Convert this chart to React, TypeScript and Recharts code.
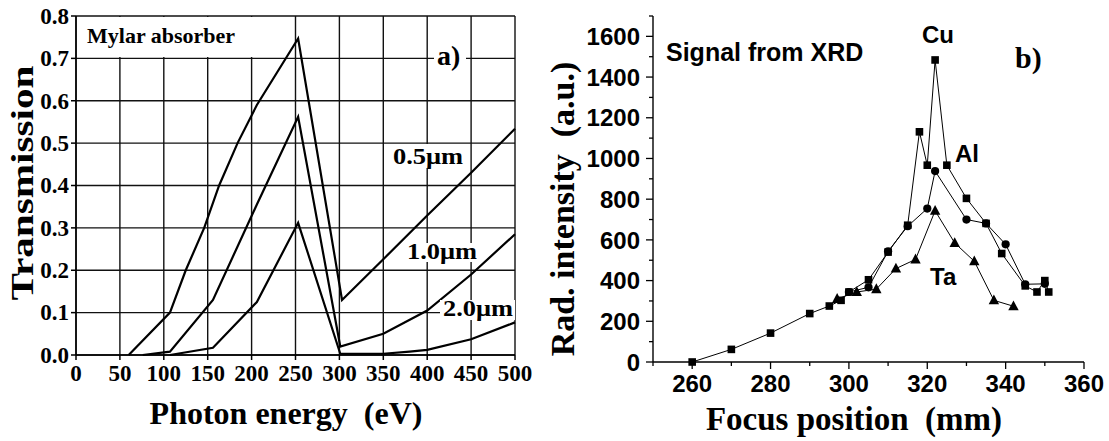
import React from 'react';
import { LineChart, Line, XAxis, YAxis, CartesianGrid } from 'recharts';

const SERIF = '"Liberation Serif", "Times New Roman", Times, serif';
const SANS = '"Liberation Sans", Arial, Helvetica, sans-serif';

// ---------- Panel a) Mylar absorber transmission ----------
const mylar05Energy = [60, 107, 125, 146, 163, 184, 206, 253, 303, 350, 400, 450, 500];
const mylar05Trans = [0, 0.1, 0.2, 0.3, 0.4, 0.5, 0.59, 0.747, 0.13, 0.226, 0.329, 0.43, 0.534];

const mylar10Energy = [76, 107, 156, 206, 253, 301, 350, 400, 450, 500];
const mylar10Trans = [0, 0.008, 0.13, 0.355, 0.562, 0.02, 0.05, 0.105, 0.19, 0.285];

const mylar20Energy = [107, 156, 206, 253, 301, 350, 380, 400, 450, 500];
const mylar20Trans = [0, 0.017, 0.125, 0.312, 0.003, 0.003, 0.008, 0.012, 0.037, 0.077];

const energyTicks = [0, 50, 100, 150, 200, 250, 300, 350, 400, 450, 500];
const transTicks = [0, 0.1, 0.2, 0.3, 0.4, 0.5, 0.6, 0.7, 0.8];

// ---------- Panel b) Signal from XRD ----------
const cuPosition = [260, 270, 280, 290, 295, 298, 300, 305, 310, 315, 318, 320, 322, 325, 330, 335, 339, 345, 348, 350, 351];
const cuSignal = [0, 62, 142, 238, 275, 303, 344, 404, 540, 672, 1131, 967, 1484, 967, 804, 681, 533, 374, 344, 400, 344];

const alPosition = [300, 305, 310, 315, 320, 322, 330, 335, 340, 345, 350];
const alSignal = [344, 367, 544, 667, 754, 938, 700, 681, 578, 382, 384];

const taPosition = [297, 302, 307, 312, 317, 322, 327, 332, 337, 342];
const taSignal = [310, 344, 358, 459, 504, 743, 585, 495, 303, 274];

const focusTicks = [250, 260, 270, 280, 290, 300, 310, 320, 330, 340, 350, 360];
const intensityTicks = [0, 100, 200, 300, 400, 500, 600, 700, 800, 900, 1000, 1100, 1200, 1300, 1400, 1500, 1600, 1700];

const toPoints = (xs: number[], ys: number[]) => xs.map((x, i) => ({ x, y: ys[i] }));

const mylar05 = toPoints(mylar05Energy, mylar05Trans);
const mylar10 = toPoints(mylar10Energy, mylar10Trans);
const mylar20 = toPoints(mylar20Energy, mylar20Trans);
const cuData = toPoints(cuPosition, cuSignal);
const alData = toPoints(alPosition, alSignal);
const taData = toPoints(taPosition, taSignal);

// ---------- markers ----------
const SquareDot = (p: any) => {
  if (p.cx == null || p.cy == null) return <g key={`s${p.index}`} />;
  return <rect key={`s${p.index}`} x={p.cx - 3.8} y={p.cy - 3.8} width={7.6} height={7.6} fill="#000" />;
};
const CircleDot = (p: any) => {
  if (p.cx == null || p.cy == null) return <g key={`c${p.index}`} />;
  return <circle key={`c${p.index}`} cx={p.cx} cy={p.cy} r={4.1} fill="#000" />;
};
const TriangleDot = (p: any) => {
  if (p.cx == null || p.cy == null) return <g key={`t${p.index}`} />;
  const { cx, cy } = p;
  return (
    <polygon
      key={`t${p.index}`}
      points={`${cx},${cy - 5.8} ${cx - 5.2},${cy + 4} ${cx + 5.2},${cy + 4}`}
      fill="#000"
    />
  );
};

// ---------- custom ticks for panel a ----------
const EnergyTick = (p: any) => {
  const { x, y, payload } = p;
  return (
    <text x={x} y={y} dy="0.71em" textAnchor="middle" fontFamily={SERIF} fontWeight="bold" fontSize={23} fill="#000">
      {payload.value}
    </text>
  );
};
const TransTick = (p: any) => {
  const { x, y, payload } = p;
  return (
    <text x={x} y={y} dy="0.34em" textAnchor="end" fontFamily={SERIF} fontWeight="bold" fontSize={23} fill="#000">
      {Number(payload.value).toFixed(1)}
    </text>
  );
};

// ---------- custom ticks for panel b ----------
const FocusTick = (p: any) => {
  const { x, y, payload } = p;
  const v = payload.value;
  const major = v % 20 === 0 && v >= 260;
  return (
    <g>
      <line x1={x} x2={x} y1={y} y2={y + (major ? 7 : 4)} stroke="#000" strokeWidth={1.3} />
      {major ? (
        <text x={x} y={y + 13} dy="0.71em" textAnchor="middle" fontFamily={SANS} fontWeight="bold" fontSize={24} fill="#000">
          {v}
        </text>
      ) : null}
    </g>
  );
};

const IntensityTick = (p: any) => {
  const { x, y, payload } = p;
  const v = payload.value;
  const major = v % 200 === 0 && v <= 1600;
  return (
    <g>
      <line x1={x} x2={x - (major ? 7 : 4)} y1={y} y2={y} stroke="#000" strokeWidth={1.3} />
      {major ? (
        <text x={x - 13} y={y} dy="0.36em" textAnchor="end" fontFamily={SANS} fontWeight="bold" fontSize={24} fill="#000">
          {v}
        </text>
      ) : null}
    </g>
  );
};

const TopTick = (p: any) => {
  const { x, y } = p;
  return <line x1={x} x2={x} y1={y} y2={y + 4} stroke="#000" strokeWidth={1.2} />;
};
const RightTick = (p: any) => {
  const { x, y } = p;
  return <line x1={x} x2={x - 4} y1={y} y2={y} stroke="#000" strokeWidth={1.2} />;
};

export default function App() {
  return (
    <div style={{ position: 'absolute', left: 0, top: 0, width: 1109, height: 441, background: '#fff', overflow: 'hidden' }}>
      {/* Panel a */}
      <div style={{ position: 'absolute', left: 0, top: 0 }}>
        <LineChart width={560} height={441} margin={{ top: 16, right: 45, bottom: 56, left: 0 }}>
          <CartesianGrid stroke="#111" strokeWidth={1.4} />
          <XAxis
            type="number"
            dataKey="x"
            domain={[0, 500]}
            ticks={energyTicks}
            interval={0}
            height={30}
            tickSize={5}
            tickMargin={5}
            tick={<EnergyTick />}
            axisLine={{ stroke: '#000', strokeWidth: 1.5 }}
            tickLine={{ stroke: '#000', strokeWidth: 1.5 }}
          />
          <YAxis
            type="number"
            domain={[0, 0.8]}
            ticks={transTicks}
            interval={0}
            width={76}
            tickSize={5}
            tickMargin={2}
            tick={<TransTick />}
            axisLine={{ stroke: '#000', strokeWidth: 1.5 }}
            tickLine={{ stroke: '#000', strokeWidth: 1.5 }}
          />
          <Line data={mylar05} dataKey="y" type="linear" stroke="#000" strokeWidth={2.2} dot={false} isAnimationActive={false} />
          <Line data={mylar10} dataKey="y" type="linear" stroke="#000" strokeWidth={2.2} dot={false} isAnimationActive={false} />
          <Line data={mylar20} dataKey="y" type="linear" stroke="#000" strokeWidth={2.2} dot={false} isAnimationActive={false} />
        </LineChart>
      </div>

      {/* Panel b */}
      <div style={{ position: 'absolute', left: 540, top: 0 }}>
        <LineChart width={569} height={441} margin={{ top: 16, right: 25, bottom: 39, left: 0 }}>
          <XAxis
            type="number"
            dataKey="x"
            domain={[250, 360]}
            ticks={focusTicks}
            interval={0}
            height={40}
            tickSize={0}
            tickMargin={0}
            tickLine={false}
            tick={<FocusTick />}
            axisLine={{ stroke: '#000', strokeWidth: 1.4 }}
          />
          <XAxis
            xAxisId="top"
            orientation="top"
            type="number"
            dataKey="x"
            domain={[250, 360]}
            ticks={focusTicks}
            interval={0}
            height={0}
            tickSize={0}
            tickMargin={0}
            tickLine={false}
            tick={<TopTick />}
            axisLine={{ stroke: '#000', strokeWidth: 1.4 }}
          />
          <YAxis
            type="number"
            domain={[0, 1700]}
            ticks={intensityTicks}
            interval={0}
            width={113}
            tickSize={0}
            tickMargin={0}
            tickLine={false}
            tick={<IntensityTick />}
            axisLine={{ stroke: '#000', strokeWidth: 1.4 }}
          />
          <YAxis
            yAxisId="right"
            orientation="right"
            type="number"
            domain={[0, 1700]}
            ticks={intensityTicks}
            interval={0}
            width={0}
            tickSize={0}
            tickMargin={0}
            tickLine={false}
            tick={<RightTick />}
            axisLine={{ stroke: '#000', strokeWidth: 1.4 }}
          />
          <Line data={cuData} dataKey="y" type="linear" stroke="#000" strokeWidth={1} dot={SquareDot} isAnimationActive={false} />
          <Line data={alData} dataKey="y" type="linear" stroke="#000" strokeWidth={1} dot={CircleDot} isAnimationActive={false} />
          <Line data={taData} dataKey="y" type="linear" stroke="#000" strokeWidth={1} dot={TriangleDot} isAnimationActive={false} />
        </LineChart>
      </div>

      {/* Annotations and axis titles */}
      <svg width={1109} height={441} style={{ position: 'absolute', left: 0, top: 0, pointerEvents: 'none' }}>
        {/* panel a */}
        <rect x={77} y={17} width={183} height={40} fill="#fff" />
        <text x={87} y={43} fontFamily={SERIF} fontWeight="bold" fontSize={22} fill="#000">Mylar absorber</text>
        <rect x={434} y={45} width={32} height={23} fill="#fff" />
        <text x={437} y={65} fontFamily={SERIF} fontWeight="bold" fontSize={28} fill="#000">a)</text>
        <rect x={388} y={144} width={76} height={24} fill="#fff" />
        <text x={393} y={164} fontFamily={SERIF} fontWeight="bold" fontSize={24} fill="#000" textLength={70} lengthAdjust="spacingAndGlyphs">0.5μm</text>
        <rect x={403} y={243} width={78} height={19} fill="#fff" />
        <text x={407} y={259} fontFamily={SERIF} fontWeight="bold" fontSize={24} fill="#000" textLength={70} lengthAdjust="spacingAndGlyphs">1.0μm</text>
        <rect x={440} y={300} width={75} height={20} fill="#fff" />
        <text x={443} y={316} fontFamily={SERIF} fontWeight="bold" fontSize={24} fill="#000" textLength={70} lengthAdjust="spacingAndGlyphs">2.0μm</text>
        <text
          x={0}
          y={0}
          transform="translate(33,183) rotate(-90)"
          textAnchor="middle"
          fontFamily={SERIF}
          fontWeight="bold"
          fontSize={32}
          fill="#000"
          textLength={235}
          lengthAdjust="spacingAndGlyphs"
        >
          Transmission
        </text>
        <text x={286} y={424} textAnchor="middle" fontFamily={SERIF} fontWeight="bold" fontSize={32} fill="#000" style={{ whiteSpace: 'pre' }}>
          {'Photon energy  (eV)'}
        </text>

        {/* panel b */}
        <text x={666} y={61} fontFamily={SANS} fontWeight="bold" fontSize={25} fill="#000">Signal from XRD</text>
        <text x={922} y={43} fontFamily={SANS} fontWeight="bold" fontSize={24} fill="#000">Cu</text>
        <text x={1015} y={68} fontFamily={SERIF} fontWeight="bold" fontSize={30} fill="#000">b)</text>
        <text x={955} y={162} fontFamily={SANS} fontWeight="bold" fontSize={24} fill="#000">Al</text>
        <text x={930} y={285} fontFamily={SANS} fontWeight="bold" fontSize={24} fill="#000">Ta</text>
        <text
          x={0}
          y={0}
          transform="translate(574,209) rotate(-90)"
          textAnchor="middle"
          fontFamily={SERIF}
          fontWeight="bold"
          fontSize={34}
          fill="#000"
          style={{ whiteSpace: 'pre' }}
        >
          {'Rad. intensity  (a.u.)'}
        </text>
        <text x={854} y={430} textAnchor="middle" fontFamily={SERIF} fontWeight="bold" fontSize={33} fill="#000" style={{ whiteSpace: 'pre' }}>
          {'Focus position  (mm)'}
        </text>
      </svg>
    </div>
  );
}
